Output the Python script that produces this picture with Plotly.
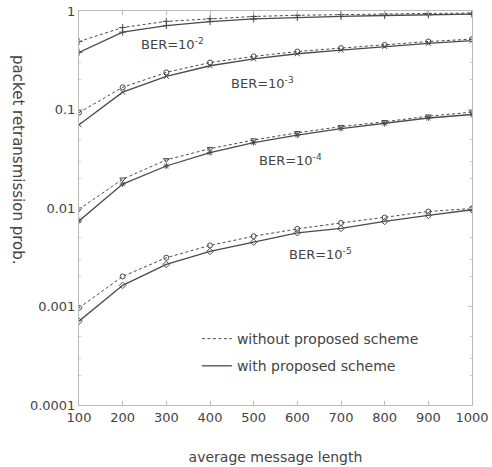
import math
import plotly.graph_objects as go

lengths = [100, 200, 300, 400, 500, 600, 700, 800, 900, 1000]

ber2_without = [0.49, 0.68, 0.785, 0.835, 0.88, 0.905, 0.922, 0.932, 0.945, 0.952]
ber2_with    = [0.38, 0.61, 0.71, 0.78, 0.83, 0.86, 0.88, 0.90, 0.918, 0.93]
ber3_without = [0.093, 0.168, 0.238, 0.30, 0.346, 0.388, 0.42, 0.453, 0.49, 0.518]
ber3_with    = [0.070, 0.150, 0.217, 0.278, 0.327, 0.368, 0.40, 0.436, 0.47, 0.50]
ber4_without = [0.0097, 0.0196, 0.0308, 0.040, 0.049, 0.058, 0.067, 0.075, 0.0855, 0.094]
ber4_with    = [0.0074, 0.0175, 0.0267, 0.0365, 0.046, 0.055, 0.064, 0.072, 0.082, 0.089]
ber5_without = [0.00097, 0.00202, 0.00313, 0.00417, 0.00517, 0.00614, 0.00705, 0.0080, 0.0092, 0.0099]
ber5_with    = [0.00071, 0.00164, 0.00268, 0.00362, 0.0045, 0.0056, 0.0062, 0.0073, 0.0084, 0.0096]

ber_labels = ["BER=10<sup>-2</sup>", "BER=10<sup>-3</sup>", "BER=10<sup>-4</sup>", "BER=10<sup>-5</sup>"]
label_x = [313, 521, 585, 652]
label_y = [0.46, 0.185, 0.031, 0.0034]

ytick_vals = [0.0001, 0.001, 0.01, 0.1, 1]
ytick_text = ["0.0001", "0.001", "0.01", "0.1", "1"]

series = [
    (ber2_without, ber2_with, "cross-thin", "cross-thin"),
    (ber3_without, ber3_with, "circle-open", "x-thin"),
    (ber4_without, ber4_with, "triangle-down-open", "asterisk-open"),
    (ber5_without, ber5_with, "circle-open", "diamond-open"),
]

LC = "#4a4a4a"
TC = "#444444"
FONT = "DejaVu Sans, sans-serif"
DASH = "3px,2.5px"

fig = go.Figure()
for i, (wo, wi, m1, m2) in enumerate(series):
    fig.add_trace(go.Scatter(
        x=lengths, y=wo, mode="lines+markers",
        line=dict(color=LC, width=1.0, dash=DASH),
        marker=dict(symbol=m1, size=5, color=LC, line=dict(color=LC, width=1)),
        showlegend=False))
    fig.add_trace(go.Scatter(
        x=lengths, y=wi, mode="lines+markers",
        line=dict(color=LC, width=1.3),
        marker=dict(symbol=m2, size=5, color=LC, line=dict(color=LC, width=1)),
        showlegend=False))

fig.add_trace(go.Scatter(x=[None], y=[None], mode="lines", legendgroup="a",
                         line=dict(color=LC, width=1.0, dash=DASH),
                         name="without proposed scheme"))
fig.add_trace(go.Scatter(x=[None], y=[None], mode="lines", legendgroup="b",
                         line=dict(color=LC, width=1.3),
                         name="with proposed scheme"))

for t, x, y in zip(ber_labels, label_x, label_y):
    fig.add_annotation(x=x, y=math.log10(y), yref="y", xref="x", text=t, showarrow=False,
                       font=dict(size=13, color=TC, family=FONT))

fig.add_annotation(xref="paper", yref="paper", x=-0.155, y=0.624,
                   xanchor="center", yanchor="middle",
                   text="packet retransmission prob.", textangle=90,
                   showarrow=False, font=dict(size=15, color=TC, family=FONT))

fig.update_layout(
    width=492, height=467,
    margin=dict(l=79, r=20, t=11, b=62, autoexpand=False),
    plot_bgcolor="white", paper_bgcolor="white",
    font=dict(family=FONT, size=13, color=TC),
    legend=dict(x=0.30, y=0.208, xanchor="left", yanchor="top",
                bgcolor="rgba(0,0,0,0)", font=dict(size=14, color=TC),
                tracegroupgap=6, itemwidth=30),
    xaxis=dict(range=[100, 1000], tickvals=lengths, ticks="inside", ticklen=4,
               tickcolor="#bbb", showline=True, linecolor="#bbb", mirror="ticks",
               showgrid=False, zeroline=False, automargin=False,
               title=dict(text="average message length", font=dict(size=14), standoff=28)),
    yaxis=dict(type="log", range=[-4, 0], tickvals=ytick_vals, ticktext=ytick_text,
               ticks="inside", ticklen=4, tickcolor="#bbb", showline=True,
               linecolor="#bbb", mirror="ticks", showgrid=False, zeroline=False,
               automargin=False,
               minor=dict(ticks="inside", ticklen=2, tickcolor="#ccc",
                          tickvals=[0.0003, 0.003, 0.03, 0.3, 0.0005, 0.005, 0.05, 0.5, 0.0002, 0.002, 0.02, 0.2])),
)

fig.write_html("out.html", config={"displayModeBar": False},
               post_script="document.body.style.margin='0';document.body.style.overflow='hidden';")
